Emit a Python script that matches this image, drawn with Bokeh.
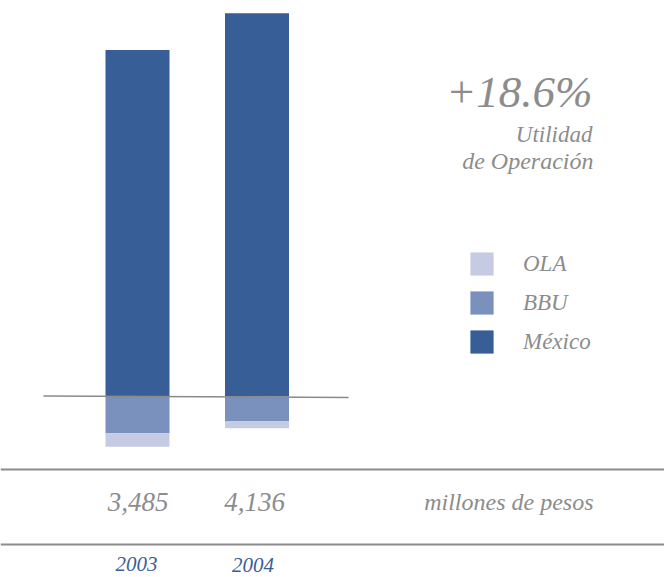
from bokeh.plotting import figure
from bokeh.models import (ColumnDataSource, Range1d, Label, Span, Legend, LegendItem)
from bokeh.embed import file_html
from bokeh.resources import INLINE

# ---- data ----
years = ["2003", "2004"]
mexico = [4075, 4508]
bbu = [432, 288]
ola = [158, 84]
totals = ["3,485", "4,136"]
growth = "+18.6%"
title_lines = ["Utilidad", "de Operación"]
unit_label = "millones de pesos"

# ---- style ----
C_MEX = "#375e97"
C_BBU = "#7a90bd"
C_OLA = "#c5cbe2"
GRAY = "#8c8c8c"
BLUE_TXT = "#3b5d9c"
FONT = "Liberation Serif"

W, H = 664, 577
ZERO_PX = 396          # pixel row of the zero line
S = 11.76              # value units per pixel

def vy(px):
    """value at a pixel row (from top)"""
    return (ZERO_PX - px) * S

p = figure(width=W, height=H, output_backend="svg", toolbar_location=None,
           x_range=Range1d(0, W), y_range=Range1d(vy(H), vy(0)),
           min_border=0, outline_line_color=None)
p.axis.visible = False
p.grid.visible = False
p.background_fill_color = "white"
p.border_fill_color = "white"

xc = [137, 256.5]
bw = 64
mex_bottom = [0, 0]
bbu_top = [0, 0]
bbu_bottom = [-b for b in bbu]
ola_top = bbu_bottom
ola_bottom = [-(b + o) for b, o in zip(bbu, ola)]

src = ColumnDataSource(dict(x=xc, mex=mexico, mex_b=mex_bottom,
                            bbu_t=bbu_top, bbu_b=bbu_bottom,
                            ola_t=ola_top, ola_b=ola_bottom))

r_mex = p.vbar(x="x", width=bw, top="mex", bottom="mex_b", source=src,
               fill_color=C_MEX, line_color=None)
r_bbu = p.vbar(x="x", width=bw, top="bbu_t", bottom="bbu_b", source=src,
               fill_color=C_BBU, line_color=None)
r_ola = p.vbar(x="x", width=bw, top="ola_t", bottom="ola_b", source=src,
               fill_color=C_OLA, line_color=None)

# zero line (slightly tilted as in the reference)
p.line(x=[43, 348], y=[vy(395.5), vy(397)], line_color="#8a8a8a", line_width=1.5)

# horizontal rules
for py in (469, 544):
    p.add_layout(Span(location=vy(py), dimension="width",
                      line_color="#8c8c8c", line_width=2))

def lab(text, x, base_px, size, color=GRAY, align="center"):
    # compensate the renderer's baseline offset
    y = H - base_px + 0.36 * size
    p.add_layout(Label(x=x, y=y, x_units="screen", y_units="screen",
                       text=text, text_font=FONT, text_font_style="italic",
                       text_font_size=f"{size}px", text_color=color,
                       text_align=align, text_baseline="alphabetic"))

lab(growth, 592, 108, 45, align="right")
lab(title_lines[0], 592, 142, 23, align="right")
lab(title_lines[1], 593, 169, 24, align="right")

lab(totals[0], 137.5, 511, 27)
lab(totals[1], 254, 511, 27)
lab(unit_label, 593, 510, 24, align="right")

lab(years[0], 136, 571, 21, color=BLUE_TXT)
lab(years[1], 252.5, 572, 21, color=BLUE_TXT)

legend = Legend(items=[LegendItem(label="OLA", renderers=[r_ola]),
                       LegendItem(label="BBU", renderers=[r_bbu]),
                       LegendItem(label="México", renderers=[r_mex])],
                location=(467, 221), orientation="vertical",
                glyph_width=29, glyph_height=29, label_height=29,
                spacing=10, label_standoff=27, padding=0, margin=0,
                border_line_color=None, background_fill_alpha=0,
                label_text_font=FONT, label_text_font_style="italic",
                label_text_font_size="23px", label_text_color=GRAY)
p.add_layout(legend)

open("out.html", "w").write(file_html(p, INLINE))
